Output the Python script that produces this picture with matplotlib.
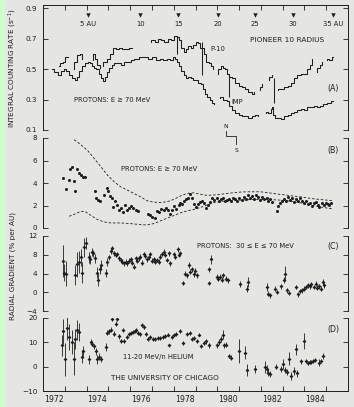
import numpy as np
import matplotlib
matplotlib.use("Agg")
import matplotlib.pyplot as plt
import matplotlib.transforms as mtransforms
from matplotlib.patches import Rectangle

nan = np.nan

# ---------------- Panel A: integral counting rates ----------------
p10_year = [1972.75, 1972.85, 1972.97, 1973.05, 1973.2, nan,
            1973.35, 1973.5, 1973.65, 1973.75, 1973.85, nan,
            1974.2, 1974.35, 1974.45, 1974.55, 1974.65, nan,
            1974.7, 1974.85, 1975.0, 1975.15, 1975.3, 1975.4, 1975.55, 1975.7, 1975.85, 1976.0, 1976.15, nan,
            1976.9, 1977.05, 1977.2, 1977.35, 1977.5, 1977.65, 1977.8, 1977.95, 1978.1, 1978.2, 1978.3,
            1978.4, 1978.5, 1978.6, 1978.75, 1978.85, 1978.95, 1979.05, 1979.15, 1979.25,
            1979.35, 1979.45, 1979.55, 1979.65, 1979.75, 1979.85, nan,
            1980.0, 1980.1, 1980.2, 1980.3, 1980.4, 1980.5, 1980.6, 1980.75, 1980.9, 1981.05, 1981.2,
            1981.35, 1981.5, 1981.65, 1981.75, nan,
            1981.9, 1982.0, 1982.1, nan,
            1982.3, 1982.45, 1982.56, nan,
            1982.7, 1982.85, 1983.0, 1983.15, 1983.3, 1983.45, 1983.6, 1983.75, 1983.9, 1984.05,
            1984.2, 1984.3, 1984.4, nan,
            1984.55, 1984.65, 1984.75, 1984.85, nan,
            1985.0, 1985.1, 1985.2, 1985.3]
p10_rate = [0.52, 0.54, 0.55, 0.58, 0.58, nan,
            0.50, 0.55, 0.59, 0.60, 0.57, nan,
            0.56, 0.60, 0.57, 0.53, 0.51, nan,
            0.52, 0.55, 0.57, 0.60, 0.64, 0.63, 0.64, 0.63, 0.63, 0.64, 0.64, nan,
            0.68, 0.69, 0.68, 0.70, 0.69, 0.68, 0.70, 0.69, 0.72, 0.71, 0.69,
            0.64, 0.61, 0.63, 0.65, 0.64, 0.66, 0.68, 0.67, 0.64,
            0.64, 0.60, 0.55, 0.54, 0.52, 0.50, nan,
            0.47, 0.50, 0.52, 0.51, 0.50, 0.47, 0.45, 0.44, 0.41, 0.39, 0.38,
            0.37, 0.35, 0.34, 0.35, nan,
            0.36, 0.38, 0.40, nan,
            0.43, 0.45, 0.46, nan,
            0.36, 0.37, 0.37, 0.38, 0.39, 0.41, 0.44, 0.46, 0.47, 0.47,
            0.50, 0.53, 0.57, nan,
            0.48, 0.51, 0.53, 0.55, nan,
            0.56, 0.57, 0.56, 0.58]

imp_year = [1972.4, 1972.6, 1972.75, 1972.9, 1973.0, 1973.1, 1973.25, 1973.4, 1973.5, 1973.6,
            1973.7, 1973.85, 1974.0, 1974.1, 1974.2, 1974.3, 1974.4, 1974.5, 1974.6, 1974.7,
            1974.8, 1974.9, 1975.0, 1975.1, 1975.2, 1975.35, 1975.5, 1975.65, 1975.8, 1975.95,
            1976.1, 1976.3, 1976.5, 1976.7, 1976.9, 1977.1, 1977.3, 1977.45, 1977.6, 1977.75,
            1977.9, 1978.0, 1978.1, 1978.2, 1978.3, 1978.4, 1978.5, 1978.6, 1978.7, 1978.85,
            1978.95, 1979.05, 1979.2, 1979.3, 1979.4, 1979.5, 1979.6, 1979.7, 1979.8, 1979.9, nan,
            1980.05, 1980.2, 1980.35, 1980.5, 1980.6, 1980.75, 1980.9, 1981.05, 1981.2, 1981.35,
            1981.5, 1981.65, 1981.8, 1981.95, nan,
            1982.2, 1982.3, 1982.4, 1982.5, 1982.56, 1982.6, 1982.7, 1982.85, 1983.0, 1983.15,
            1983.3, 1983.45, 1983.6, 1983.75, 1983.9, 1984.05, 1984.2, 1984.35, 1984.5, 1984.65,
            1984.8, 1984.95, 1985.1, 1985.3]
imp_rate = [0.50, 0.48, 0.46, 0.49, 0.50, 0.49, 0.46, 0.44, 0.43, 0.45,
            0.49, 0.52, 0.54, 0.55, 0.54, 0.52, 0.51, 0.50, 0.47, 0.44,
            0.42, 0.45, 0.48, 0.51, 0.53, 0.54, 0.54, 0.53, 0.55, 0.55,
            0.56, 0.57, 0.58, 0.58, 0.57, 0.58, 0.56, 0.57, 0.56, 0.57,
            0.56, 0.58, 0.57, 0.55, 0.52, 0.49, 0.46, 0.44, 0.45, 0.44,
            0.43, 0.43, 0.41, 0.40, 0.37, 0.34, 0.32, 0.30, 0.28, 0.27, nan,
            0.31, 0.32, 0.30, 0.29, 0.26, 0.23, 0.21, 0.20, 0.19, 0.19,
            0.18, 0.19, 0.20, 0.19, nan,
            0.21, 0.22, 0.21, 0.24, 0.25, 0.20, 0.18, 0.18, 0.17, 0.19,
            0.20, 0.21, 0.22, 0.23, 0.24, 0.23, 0.25, 0.25, 0.26, 0.25,
            0.26, 0.27, 0.28, 0.29]

link_year = [1978.15, 1979.28, 1980.53, 1982.60]
link_low = [0.60, 0.46, 0.32, 0.28]
link_high = [0.71, 0.68, 0.46, 0.44]

au_year = [1974.05, 1976.47, 1978.21, 1980.04, 1981.73, 1983.46, 1985.33]
au_label = ["5 AU", "10", "15", "20", "25", "30", "35 AU"]

# ---------------- Panel B: gradient E >= 70 MeV ----------------
b_year = [1972.90, 1973.05, 1973.20, 1973.23, 1973.31, 1973.40, 1973.46, 1973.55, 1973.64, 1973.74,
          1973.84, 1973.93,
          1974.37, 1974.45, 1974.53, 1974.62, 1974.80, 1974.92, 1974.98, 1975.06, 1975.15, 1975.23,
          1975.30, 1975.41, 1975.49, 1975.56, 1975.67, 1975.76, 1975.87, 1975.96, 1976.05, 1976.14,
          1976.25, 1976.35,
          1976.82, 1976.93, 1977.02, 1977.13, 1977.24, 1977.33, 1977.43, 1977.54, 1977.65, 1977.74,
          1977.84, 1977.94, 1978.03, 1978.12, 1978.23, 1978.30, 1978.39, 1978.48, 1978.58, 1978.65,
          1978.73, 1978.82, 1978.91, 1979.02, 1979.11, 1979.21, 1979.29, 1979.40, 1979.49, 1979.58,
          1979.67, 1979.76, 1979.87, 1979.98, 1980.07, 1980.16, 1980.25, 1980.34, 1980.43, 1980.54,
          1980.63, 1980.74, 1980.83, 1980.92, 1981.01, 1981.12, 1981.21, 1981.30, 1981.39, 1981.50,
          1981.59, 1981.68, 1981.77, 1981.88, 1981.97, 1982.06, 1982.15, 1982.26, 1982.35, 1982.44,
          1982.53, 1982.72, 1982.78, 1982.87, 1982.96, 1983.05, 1983.14, 1983.23, 1983.32, 1983.42,
          1983.51, 1983.60, 1983.69, 1983.78, 1983.87, 1983.96, 1984.05, 1984.15, 1984.24, 1984.33,
          1984.42, 1984.51, 1984.62, 1984.69, 1984.79, 1984.88, 1984.97, 1985.06, 1985.15, 1985.24]
b_grad = [4.48, 3.43, 4.27, 5.22, 5.40, 4.18, 3.31, 5.22, 4.87, 4.75,
          4.57, 4.50,
          3.31, 2.63, 2.48, 2.39, 2.93, 3.58, 3.31, 2.84, 2.63, 1.88,
          2.42, 2.03, 1.64, 1.82, 1.43, 2.03, 1.58, 1.82, 1.94, 1.82,
          1.64, 1.52,
          1.22, 1.13, 0.99, 0.90, 1.52, 1.43, 1.70, 1.58, 1.79, 1.58,
          1.28, 1.58, 1.94, 1.73, 2.03, 2.24, 2.12, 2.42, 2.54, 2.63,
          2.99, 2.69, 2.12, 1.88, 2.12, 2.33, 2.42, 2.18, 1.79, 2.03,
          2.33, 2.63, 2.48, 2.63, 2.42, 2.54, 2.63, 2.42, 2.48, 2.60,
          2.42, 2.66, 2.54, 2.42, 2.63, 2.48, 2.78, 2.57, 2.90, 2.63,
          2.84, 2.54, 2.93, 2.78, 2.48, 2.78, 2.60, 2.66, 2.42, 2.60,
          2.33, 1.52, 1.94, 2.24, 2.42, 2.54, 2.36, 2.72, 2.48, 2.66,
          2.30, 2.54, 2.42, 2.63, 2.36, 2.18, 2.42, 2.12, 2.24, 1.94,
          2.18, 2.33, 2.03, 1.88, 2.18, 2.03, 2.24, 2.12, 2.03, 2.18]

env_up_year = [1973.43, 1973.74, 1974.04, 1974.34, 1974.65, 1974.95, 1975.26, 1975.56, 1975.87, 1976.17,
               1976.47, 1976.78, 1977.08, 1977.39, 1977.69, 1978.0, 1978.30, 1978.61, 1978.91, 1979.21,
               1979.52, 1979.82, 1980.13, 1980.43, 1980.74, 1981.04, 1981.35, 1981.65, 1981.95, 1982.26,
               1982.56, 1982.87, 1983.17, 1983.48, 1983.78, 1984.09, 1984.39, 1984.69, 1985.0, 1985.30]
env_up = [7.85, 7.40, 6.90, 6.21, 5.46, 4.72, 4.12, 3.67, 3.37, 3.07,
          2.78, 2.42, 2.30, 2.27, 2.33, 2.54, 2.84, 3.07, 3.13, 3.01,
          2.90, 2.93, 2.99, 3.07, 3.13, 3.19, 3.22, 3.22, 3.22, 3.16,
          3.07, 2.99, 2.93, 2.84, 2.78, 2.69, 2.60, 2.54, 2.48, 2.42]
env_lo_year = [1973.20, 1973.51, 1973.74, 1973.96, 1974.19, 1974.50, 1974.80, 1975.11, 1975.56, 1976.02,
               1976.47, 1976.78, 1977.08, 1977.39, 1977.69, 1978.0, 1978.30, 1978.61, 1978.91, 1979.21,
               1979.52, 1979.82, 1980.13, 1980.43, 1980.74, 1981.04, 1981.65, 1982.26, 1982.87, 1983.48,
               1984.09, 1984.69, 1985.30]
env_lo = [1.04, 1.28, 1.49, 1.43, 1.13, 0.75, 0.54, 0.45, 0.45, 0.39,
          0.30, 0.27, 0.39, 0.63, 0.87, 1.10, 1.34, 1.52, 1.64, 1.82,
          2.03, 2.24, 2.36, 2.42, 2.45, 2.48, 2.54, 2.54, 2.48, 2.36,
          2.12, 1.88, 1.70]

# ---------------- Panel C: gradient 30-70 MeV ----------------
c_year = [1972.90, 1972.97, 1973.05, 1973.46, 1973.55, 1973.64, 1973.74, 1973.81, 1973.89, 1973.99,
          1974.09, 1974.16, 1974.24, 1974.31, 1974.39, 1974.47, 1974.53, 1974.60, 1974.68, 1974.88,
          1974.95, 1975.03, 1975.11, 1975.18, 1975.26, 1975.33, 1975.41, 1975.49, 1975.56, 1975.64,
          1975.71, 1975.79, 1975.87, 1975.94, 1976.02, 1976.09, 1976.17, 1976.25, 1976.32, 1976.40,
          1976.47, 1976.55, 1976.63, 1976.70, 1976.78, 1976.86, 1976.93, 1977.01, 1977.08, 1977.16,
          1977.24, 1977.31, 1977.39, 1977.46, 1977.54, 1977.62, 1977.69, 1977.77, 1977.84, 1978.00,
          1978.07, 1978.18, 1978.26, 1978.30,
          1978.42, 1978.53, 1978.61, 1978.68, 1978.76, 1978.83, 1978.91, 1978.99, 1979.09,
          1979.60, 1979.64, 1979.72, 1979.98, 1980.05, 1980.13, 1980.20, 1980.28, 1980.40, 1980.51,
          1981.04, 1981.35, 1981.42,
          1982.26, 1982.35, 1982.44, 1982.64, 1982.75, 1982.94, 1983.05, 1983.10, 1983.20, 1983.29,
          1983.63, 1983.71, 1983.81, 1983.90, 1983.99, 1984.09, 1984.16, 1984.24, 1984.31, 1984.42,
          1984.51, 1984.59, 1984.66, 1984.74, 1984.85, 1984.92]
c_grad = [6.71, 4.14, 4.00, 3.64, 5.93, 6.50, 7.43, 4.21, 9.57, 10.43,
          7.43, 7.00, 8.64, 8.29, 7.21, 4.14, 2.57, 4.86, 5.79, 4.14,
          6.50, 7.43, 8.86, 9.36, 8.29, 7.93, 8.14, 7.21, 6.86, 6.50,
          6.14, 6.50, 6.14, 6.71, 7.00, 6.29, 5.43, 7.21, 6.71, 7.21,
          7.57, 6.29, 8.14, 7.71, 7.00, 7.43, 8.14, 6.71, 7.00, 6.50,
          6.86, 6.50, 7.57, 8.14, 8.64, 7.93, 6.86, 8.29, 6.14, 8.14,
          7.57, 9.14, 7.93, 8.29,
          2.00, 4.00, 3.64, 5.79, 4.36, 4.86, 3.86, 4.57, 3.64,
          2.00, 4.86, 7.00, 3.29, 2.93, 3.29, 2.71, 3.64, 2.93, 2.57,
          1.71, 0.79, 2.21,
          1.14, -0.29, -0.64, 0.79, 0.07, 1.29, 2.57, 4.00, 0.43, -0.14,
          1.14, -0.43, 0.29, 0.43, 0.79, 1.14, 1.50, 1.29, 1.71, 1.14,
          1.86, 1.00, 1.29, 0.79, 2.21, 1.50]
c_err = [3.4, 1.8, 2.7, 2.1, 2.7, 2.3, 1.8, 2.3, 2.0, 1.3,
         1.2, 1.0, 0.8, 0.8, 1.0, 1.2, 1.3, 1.0, 1.0, 0.9,
         0.8, 0.6, 0.6, 0.6, 0.5, 0.5, 0.5, 0.5, 0.5, 0.5,
         0.5, 0.5, 0.5, 0.5, 0.5, 0.5, 0.5, 0.5, 0.5, 0.5,
         0.5, 0.5, 0.5, 0.5, 0.5, 0.5, 0.5, 0.5, 0.5, 0.5,
         0.5, 0.5, 0.5, 0.5, 0.5, 0.5, 0.5, 0.5, 0.5, 0.5,
         0.5, 0.5, 0.5, 0.5,
         0.5, 0.5, 0.5, 0.6, 0.5, 0.5, 0.5, 0.5, 0.5,
         0.5, 0.6, 0.9, 0.5, 0.5, 0.5, 0.5, 0.5, 0.5, 0.5,
         0.6, 0.7, 1.0,
         0.8, 0.5, 0.5, 0.5, 0.5, 0.5, 0.7, 1.6, 0.5, 0.5,
         0.5, 0.5, 0.5, 0.5, 0.5, 0.5, 0.5, 0.5, 0.5, 0.5,
         0.5, 0.5, 0.5, 0.5, 0.6, 0.5]

# ---------------- Panel D: 11-20 MeV/n helium ----------------
d_year = [1972.87, 1972.93, 1973.00, 1973.10, 1973.20, 1973.31, 1973.40, 1973.49, 1973.58, 1973.67,
          1973.77, 1973.83, 1974.12, 1974.19, 1974.27, 1974.34, 1974.42, 1974.50, 1974.57, 1974.65,
          1974.88, 1974.95, 1975.03, 1975.11, 1975.18, 1975.26, 1975.33, 1975.41, 1975.49, 1975.59,
          1975.67, 1975.74, 1975.84, 1975.93, 1976.02, 1976.11, 1976.20, 1976.29, 1976.37, 1976.47,
          1976.55, 1976.63, 1976.72, 1976.81, 1976.93, 1977.05, 1977.16, 1977.27, 1977.39, 1977.51,
          1977.62, 1977.72, 1977.80, 1977.92, 1978.00, 1978.10, 1978.30, 1978.42, 1978.61, 1978.73,
          1978.83, 1978.94, 1979.06, 1979.15, 1979.24, 1979.37, 1979.49, 1979.60, 1979.98, 1980.07,
          1980.16, 1980.25, 1980.31, 1980.40, 1980.55, 1980.65, 1981.01, 1981.27, 1981.38, 1981.73,
          1982.18, 1982.26, 1982.34, 1982.41, 1982.68, 1982.94, 1983.02, 1983.10, 1983.20, 1983.29,
          1983.40, 1983.51, 1983.60, 1983.67, 1983.86, 1983.96, 1984.05, 1984.16, 1984.24, 1984.31,
          1984.39, 1984.47, 1984.66, 1984.77, 1984.85]
d_grad = [8.7, 14.6, 3.0, 15.9, 12.2, 10.2, 3.3, 11.2, 15.2, 14.1,
          4.1, 6.4, 3.0, 10.1, 9.4, 8.4, 6.4, 3.0, 4.1, 3.0,
          8.2, 13.9, 14.6, 15.2, 19.6, 13.6, 17.7, 19.6, 12.5, 10.5,
          15.2, 10.5, 12.2, 13.6, 13.9, 14.1, 14.6, 15.0, 13.9, 13.6,
          17.3, 16.3, 13.6, 11.4, 12.2, 11.2, 11.4, 11.8, 11.8, 12.2,
          12.5, 13.2, 8.7, 12.2, 13.2, 13.6, 14.6, 9.8, 13.6, 13.9,
          11.2, 11.8, 10.5, 13.2, 8.4, 9.8, 10.5, 8.7, 8.7, 10.1,
          11.2, 13.2, 8.7, 9.1, 4.4, 3.7, 6.4, 5.7, -1.5, -1.1,
          -0.1, -0.8, -2.4, -3.1, -0.1, -0.8, 1.0, -1.4, -2.2, 3.3,
          -3.8, -1.8, 7.1, -2.7, 2.3, 10.5, 2.3, 1.6, 1.9, 1.9,
          2.3, 2.7, 1.6, 2.3, 4.4]
d_err = [4.3, 5.1, 6.8, 4.8, 5.4, 4.8, 6.8, 4.1, 4.1, 3.7,
         2.7, 2.0, 2.0, 1.1, 1.0, 1.0, 1.4, 1.7, 1.4, 1.2,
         1.6, 1.0, 1.0, 1.0, 1.0, 1.0, 1.0, 1.0, 1.0, 0.8,
         0.8, 0.8, 0.8, 0.8, 0.8, 0.8, 0.8, 0.8, 0.8, 0.8,
         0.8, 0.8, 0.8, 0.8, 0.8, 0.8, 0.8, 0.8, 0.8, 0.8,
         0.8, 0.8, 0.8, 0.8, 0.8, 0.8, 0.8, 0.8, 0.8, 0.8,
         0.8, 0.8, 0.8, 0.8, 0.8, 0.8, 1.0, 1.0, 1.0, 1.2,
         1.2, 2.0, 1.0, 1.0, 1.0, 1.0, 4.8, 2.7, 2.4, 1.7,
         2.3, 1.5, 1.5, 1.2, 1.0, 1.2, 2.0, 1.2, 1.2, 2.7,
         1.5, 1.5, 2.4, 1.5, 1.0, 3.4, 0.8, 0.8, 0.8, 0.8,
         0.8, 0.8, 1.4, 0.8, 1.2]

year_labels = ["1972", "1974", "1976", "1978", "1980", "1982", "1984"]

# ---------------- figure ----------------
W, H = 354, 407
fig = plt.figure(figsize=(W / 100, H / 100), dpi=100)
bg = "#e5e5e3"
ink = "#1e1e1e"
fig.patch.set_facecolor(bg)
fig.add_artist(Rectangle((0, 0), 5 / W, 1, transform=fig.transFigure,
                         facecolor="#ccffcc", edgecolor="none"))
plt.rcParams["font.family"] = "DejaVu Sans"
fs = 4.9
tfs = 5.2

left = 43 / W
width = (348 - 43) / W

def mkax(top_px, bot_px):
    return fig.add_axes([left, 1 - bot_px / H, width, (bot_px - top_px) / H])

axA = mkax(5, 130)
axB = mkax(138, 228)
axC = mkax(236, 311)
axD = mkax(318, 391)

for ax in (axA, axB, axC, axD):
    ax.set_facecolor("none")
    ax.set_xlim(1972, 1986)
    for s in ("top", "bottom"):
        ax.spines[s].set_visible(False)
    for s in ("left", "right"):
        ax.spines[s].set_color(ink)
        ax.spines[s].set_linewidth(0.7)
    ax.tick_params(axis="y", direction="in", length=3.5, width=0.6, colors=ink,
                   labelsize=tfs, left=True, right=True, pad=4)
    ax.tick_params(axis="x", bottom=False, top=False, labelbottom=False)

axA.spines["top"].set_visible(True)
axA.spines["top"].set_linewidth(0.7)
axA.spines["top"].set_color(ink)
axD.spines["bottom"].set_visible(True)
axD.spines["bottom"].set_linewidth(0.7)
axD.spines["bottom"].set_color(ink)

years_major = list(range(1973, 1986))
axA.set_xticks(years_major)
axA.tick_params(axis="x", top=True, direction="in", length=3.5, width=0.6,
                colors=ink, labeltop=False)
axD.set_xticks(years_major)
axD.set_xticks([int(y) + 0.5 for y in year_labels], minor=True)
axD.set_xticklabels(year_labels, minor=True)
axD.tick_params(axis="x", which="major", bottom=True, direction="in",
                length=3.5, width=0.6, colors=ink, labelbottom=False)
axD.tick_params(axis="x", which="minor", bottom=True, length=0,
                labelbottom=True, labelsize=5.6, pad=3, colors=ink)

# ---- panel A
axA.set_ylim(0.1, 0.922)
axA.set_yticks([0.1, 0.3, 0.5, 0.7, 0.9])
axA.set_yticklabels(["0.1", "0.3", "0.5", "0.7", "0.9"])
axA.plot(p10_year, p10_rate, drawstyle="steps-mid", color=ink, lw=0.75)
axA.plot(imp_year, imp_rate, drawstyle="steps-mid", color=ink, lw=0.75)
axA.vlines(link_year, link_low, link_high, color=ink, lw=0.75)
axA.plot(au_year, [0.856] * len(au_year), "v", color=ink, ms=3.2, mew=0)
for yr, lab in zip(au_year, au_label):
    axA.text(yr, 0.80, lab, fontsize=fs, ha="center", va="center", color=ink)
axA.text(1981.5, 0.692, "PIONEER 10 RADIUS", fontsize=fs + 0.4, ha="left", va="center", color=ink)
axA.text(1979.67, 0.632, "P-10", fontsize=fs, ha="left", va="center", color=ink)
axA.text(1980.63, 0.284, "IMP", fontsize=fs, ha="left", va="center", color=ink)
axA.text(1973.42, 0.30, "PROTONS: E ≳ 70 MeV", fontsize=fs, ha="left", va="center", color=ink)
axA.text(1985.33, 0.376, "(A)", fontsize=fs + 0.8, ha="center", va="center", color=ink)

# N / S marker crossing panels
tr = mtransforms.blended_transform_factory(axA.transData, fig.transFigure)
ns_x = [1980.40, 1980.40, 1980.86, 1980.86]
ns_y = [1 - 131 / H, 1 - 136 / H, 1 - 136 / H, 1 - 144 / H]
fig.add_artist(plt.Line2D(ns_x, ns_y, transform=tr, color=ink, lw=0.6))
fig.text(1980.40, 1 - 126 / H, "N", transform=tr, fontsize=fs - 0.5, ha="center", va="center", color=ink)
fig.text(1980.90, 1 - 150 / H, "S", transform=tr, fontsize=fs - 0.5, ha="center", va="center", color=ink)

# ---- panel B
axB.set_ylim(0, 8)
axB.set_yticks([0, 2, 4, 6, 8])
axB.plot(b_year, b_grad, "o", color=ink, ms=2.2, mew=0)
axB.plot(env_up_year, env_up, color=ink, lw=0.6, ls=(0, (3, 2.2)))
axB.plot(env_lo_year, env_lo, color=ink, lw=0.6, ls=(0, (3, 2.2)))
axB.text(1975.56, 5.22, "PROTONS: E ≳ 70 MeV", fontsize=fs, ha="left", va="center", color=ink)
axB.text(1985.33, 6.9, "(B)", fontsize=fs + 0.8, ha="center", va="center", color=ink)

# ---- panel C
axC.set_ylim(-4, 12)
axC.set_yticks([-4, 0, 4, 8, 12])
axC.errorbar(c_year, c_grad, yerr=c_err, fmt="D", color=ink, ms=2.0, mew=0,
             elinewidth=0.6, capsize=0)
axC.text(1979.08, 9.86, "PROTONS:  30 ≤ E ≤ 70 MeV", fontsize=fs, ha="left", va="center", color=ink)
axC.text(1985.33, 9.86, "(C)", fontsize=fs + 0.8, ha="center", va="center", color=ink)

# ---- panel D
axD.set_ylim(-10, 20)
axD.set_yticks([-10, 0, 10, 20])
axD.errorbar(d_year, d_grad, yerr=d_err, fmt="D", color=ink, ms=2.0, mew=0,
             elinewidth=0.6, capsize=0)
axD.text(1985.33, 15.2, "(D)", fontsize=fs + 0.8, ha="center", va="center", color=ink)
axD.text(1975.65, 3.9, "11-20 MeV/n HELIUM", fontsize=fs, ha="left", va="center", color=ink)
axD.text(1975.1, -4.5, "THE UNIVERSITY OF CHICAGO", fontsize=fs + 0.3, ha="left", va="center", color=ink)

fig.text(12.5 / W, 1 - 68 / H, "INTEGRAL COUNTING RATE (s$^{-1}$)", rotation=90,
         fontsize=fs + 0.3, ha="center", va="center", color=ink)
fig.text(12.5 / W, 1 - 266 / H, "RADIAL GRADIENT (% per AU)", rotation=90,
         fontsize=fs + 0.3, ha="center", va="center", color=ink)

fig.savefig("out.png", dpi=100, facecolor=bg)
